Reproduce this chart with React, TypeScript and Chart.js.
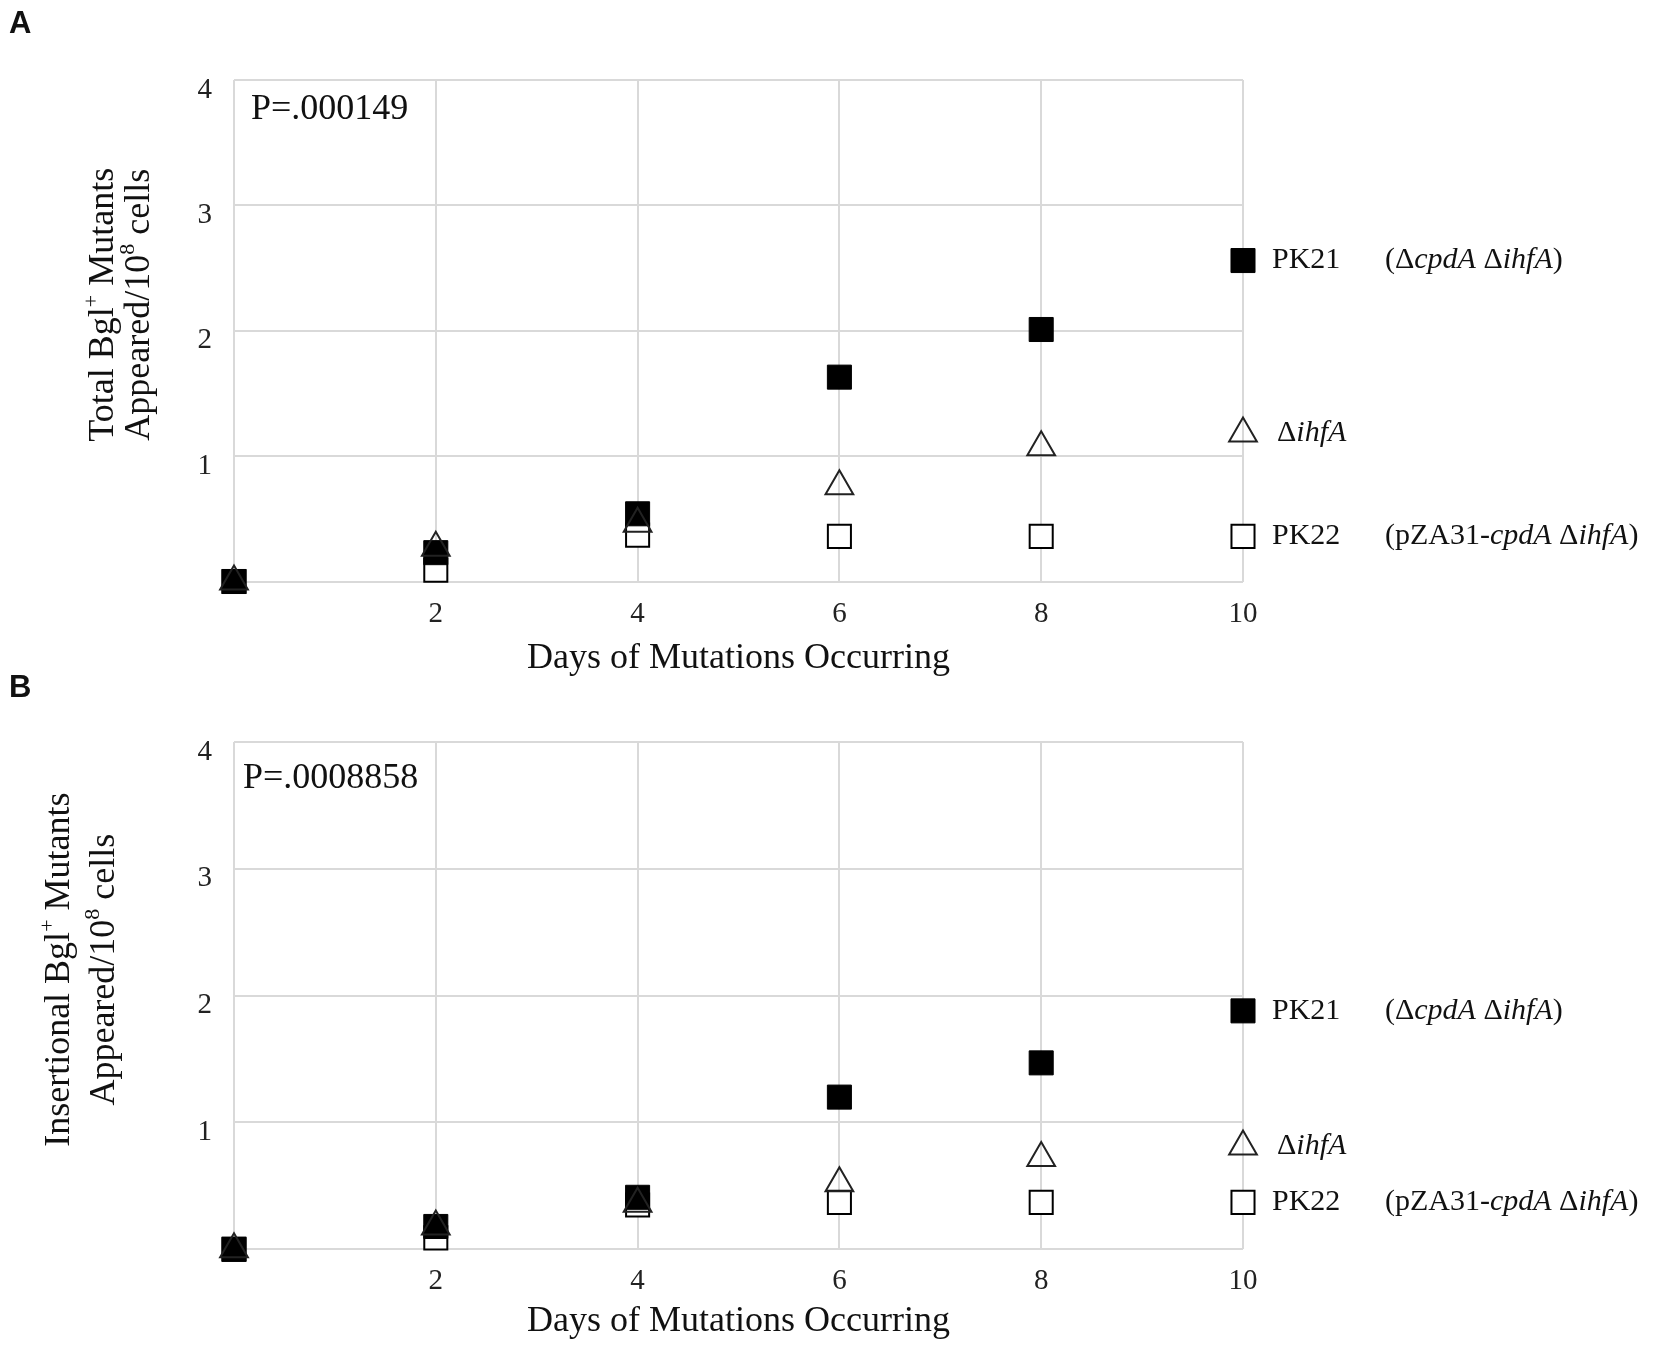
import { useEffect, useRef } from "react";
import { Chart, registerables } from "chart.js";

Chart.register(...registerables);

type Seg = { t: string; i?: boolean; sup?: boolean };

const days = [0, 2, 4, 6, 8, 10];

// A: total Bgl+ mutants appeared per 10^8 cells
const totalPK21 = [0, 0.23, 0.54, 1.63, 2.01, 2.56];
const totalIhfA = [0, 0.27, 0.46, 0.76, 1.07, 1.18];
const totalPK22 = [0, 0.09, 0.37, 0.36, 0.36, 0.36];

// B: insertional Bgl+ mutants appeared per 10^8 cells
const insPK21 = [0, 0.18, 0.41, 1.2, 1.47, 1.88];
const insIhfA = [0, 0.18, 0.36, 0.52, 0.72, 0.81];
const insPK22 = [0, 0.09, 0.35, 0.37, 0.37, 0.37];

const yMax = 4;
const xMax = 10;
const xStep = 2;
const xTitle = "Days of Mutations Occurring";

const pk21Name: Seg[] = [{ t: "PK21" }];
const pk21Genotype: Seg[] = [{ t: "(Δ" }, { t: "cpdA", i: true }, { t: " Δ" }, { t: "ihfA", i: true }, { t: ")" }];
const ihfAName: Seg[] = [{ t: "Δ" }, { t: "ihfA", i: true }];
const pk22Name: Seg[] = [{ t: "PK22" }];
const pk22Genotype: Seg[] = [{ t: "(pZA31-" }, { t: "cpdA", i: true }, { t: " Δ" }, { t: "ihfA", i: true }, { t: ")" }];

const appearedLine: Seg[] = [{ t: "Appeared/10" }, { t: "8", sup: true }, { t: " cells" }];

const SERIF = '"Liberation Serif", "Times New Roman", serif';
const TEXT = "#111";
const GRID = "#d9d9d9";

interface Panel {
  letter: string;
  pValue: string;
  yTitle: Seg[][];
  pk21: number[];
  ihfA: number[];
  pk22: number[];
  top: number;
  height: number;
  padTop: number;
  padBottom: number;
  xAxisH: number;
  yTitleX: number[];
  pOffset: number[];
  letterY: number;
}

const panels: Panel[] = [
  {
    letter: "A",
    pValue: "P=.000149",
    yTitle: [[{ t: "Total Bgl" }, { t: "+", sup: true }, { t: " Mutants" }], appearedLine],
    pk21: totalPK21,
    ihfA: totalIhfA,
    pk22: totalPK22,
    top: 0,
    height: 680,
    padTop: 80,
    padBottom: 3,
    xAxisH: 95.5,
    yTitleX: [104, 140],
    pOffset: [17, 30],
    letterY: 24,
  },
  {
    letter: "B",
    pValue: "P=.0008858",
    yTitle: [[{ t: "Insertional Bgl" }, { t: "+", sup: true }, { t: " Mutants" }], appearedLine],
    pk21: insPK21,
    ihfA: insIhfA,
    pk22: insPK22,
    top: 674,
    height: 674,
    padTop: 68,
    padBottom: 8,
    xAxisH: 90.7,
    yTitleX: [60, 105],
    pOffset: [9, 37],
    letterY: 14,
  },
];

// draws a run of upright / italic / superscript pieces, vertically centred on y
function drawRich(ctx: CanvasRenderingContext2D, segs: Seg[], x: number, y: number, size: number, align: "left" | "center") {
  const fontOf = (s: Seg) => `${s.i ? "italic " : ""}${s.sup ? Math.round(size * 0.62) : size}px ${SERIF}`;
  let total = 0;
  for (const s of segs) {
    ctx.font = fontOf(s);
    total += ctx.measureText(s.t).width;
  }
  let cx = align === "center" ? x - total / 2 : x;
  ctx.textAlign = "left";
  ctx.textBaseline = "middle";
  for (const s of segs) {
    ctx.font = fontOf(s);
    ctx.fillText(s.t, cx, s.sup ? y - size * 0.33 : y);
    cx += ctx.measureText(s.t).width;
  }
}

function PanelChart({ panel }: { panel: Panel }) {
  const canvasRef = useRef<HTMLCanvasElement>(null);

  useEffect(() => {
    if (!canvasRef.current) return;
    const toPoints = (vals: number[]) => days.map((d, i) => ({ x: d, y: vals[i] }));

    const annotations = {
      id: "annotations",
      afterDraw(chart: Chart) {
        const { ctx, chartArea } = chart;
        ctx.save();
        ctx.fillStyle = TEXT;

        // panel letter
        ctx.font = 'bold 31px "Liberation Sans", Arial, sans-serif';
        ctx.textAlign = "left";
        ctx.textBaseline = "middle";
        ctx.fillText(panel.letter, 9, panel.letterY);

        // y axis title, two rotated lines
        const midY = (chartArea.top + chartArea.bottom) / 2 - 26;
        panel.yTitle.forEach((line, i) => {
          ctx.save();
          ctx.translate(panel.yTitleX[i], midY);
          ctx.rotate(-Math.PI / 2);
          drawRich(ctx, line, 0, 0, 36, "center");
          ctx.restore();
        });

        // p value
        drawRich(ctx, [{ t: panel.pValue }], chartArea.left + panel.pOffset[0], chartArea.top + panel.pOffset[1], 36, "left");

        // series names next to the day-10 points
        const last = days.length - 1;
        const ptOf = (ds: number) => chart.getDatasetMeta(ds).data[last];
        const ihf = ptOf(0);
        const pk21 = ptOf(1);
        const pk22 = ptOf(2);
        drawRich(ctx, pk21Name, pk21.x + 29, pk21.y, 30, "left");
        drawRich(ctx, pk21Genotype, pk21.x + 142, pk21.y, 30, "left");
        drawRich(ctx, ihfAName, ihf.x + 34, ihf.y, 30, "left");
        drawRich(ctx, pk22Name, pk22.x + 29, pk22.y, 30, "left");
        drawRich(ctx, pk22Genotype, pk22.x + 142, pk22.y, 30, "left");
        ctx.restore();
      },
    };

    const tickFont = { family: SERIF, size: 29 };

    const chart = new Chart(canvasRef.current, {
      type: "scatter",
      data: {
        datasets: [
          {
            label: "ΔihfA",
            data: toPoints(panel.ihfA),
            pointStyle: "triangle",
            pointRadius: 16,
            backgroundColor: "rgba(255,255,255,0)",
            borderColor: "#222",
            borderWidth: 2,
            clip: false,
            order: 1,
          },
          {
            label: "PK21",
            data: toPoints(panel.pk21),
            pointStyle: "rect",
            pointRadius: 17,
            backgroundColor: "#000",
            borderColor: "#000",
            borderWidth: 1,
            clip: false,
            order: 2,
          },
          {
            label: "PK22",
            data: toPoints(panel.pk22),
            pointStyle: "rect",
            pointRadius: 16.3,
            backgroundColor: "#fff",
            borderColor: "#000",
            borderWidth: 2,
            clip: false,
            order: 3,
          },
        ],
      },
      options: {
        animation: false,
        responsive: false,
        events: [],
        layout: { padding: { left: 0, right: 411, top: panel.padTop, bottom: panel.padBottom } },
        plugins: { legend: { display: false }, tooltip: { enabled: false } },
        scales: {
          x: {
            type: "linear",
            min: 0,
            max: xMax,
            afterFit: (s: any) => {
              s.height = panel.xAxisH;
            },
            grid: { color: GRID, lineWidth: 2, drawTicks: false },
            border: { display: false },
            ticks: {
              stepSize: xStep,
              padding: 15,
              color: "#222",
              font: tickFont,
              maxRotation: 0,
              callback: (v: any) => (Number(v) === 0 ? "" : String(v)),
            },
            title: {
              display: true,
              text: xTitle,
              color: TEXT,
              font: { family: SERIF, size: 36, lineHeight: 1 },
              padding: 0,
            },
          },
          y: {
            type: "linear",
            min: 0,
            max: yMax,
            afterFit: (s: any) => {
              s.width = 234;
            },
            grid: { color: GRID, lineWidth: 2, drawTicks: false },
            border: { display: false },
            ticks: {
              stepSize: 1,
              padding: 22,
              labelOffset: 10,
              color: "#222",
              font: tickFont,
              callback: (v: any) => (Number(v) === 0 ? "" : String(v)),
            },
          },
        },
      },
      plugins: [annotations],
    } as any);

    return () => chart.destroy();
  }, [panel]);

  return (
    <canvas
      ref={canvasRef}
      width={1654}
      height={panel.height}
      style={{ position: "absolute", left: 0, top: panel.top, width: 1654, height: panel.height }}
    />
  );
}

export default function App() {
  return (
    <div style={{ position: "absolute", left: 0, top: 0, width: 1654, height: 1348, background: "#fff", overflow: "hidden" }}>
      {panels.map((p) => (
        <PanelChart key={p.letter} panel={p} />
      ))}
    </div>
  );
}
